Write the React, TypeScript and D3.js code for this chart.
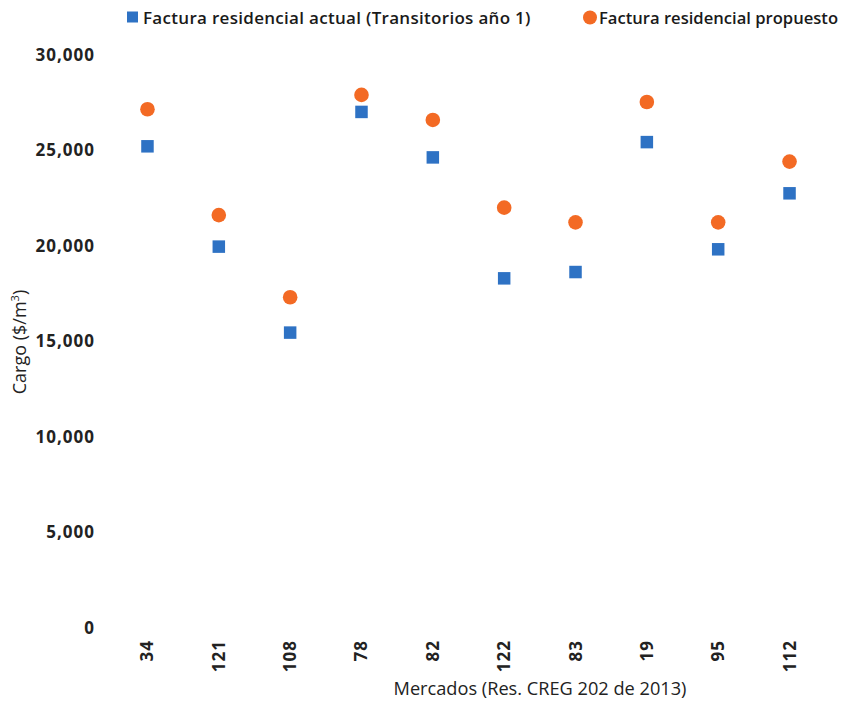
import React from "react";
import * as d3 from "d3";

const categories = ["34", "121", "108", "78", "82", "122", "83", "19", "95", "112"];
const actualValues = [25200, 19950, 15450, 27000, 24620, 18290, 18620, 25420, 19810, 22740];
const proposedValues = [27140, 21600, 17300, 27890, 26580, 21990, 21220, 27520, 21220, 24400];
const yTicks = [0, 5000, 10000, 15000, 20000, 25000, 30000];
const seriesNames = ["Factura residencial actual (Transitorios año 1)", "Factura residencial propuesto"];

const W = 853;
const H = 702;
const margin = { left: 111.8, right: 853 - 825.2, top: 54.6, bottom: 702 - 627.8 };
const BLUE = "#2E72C4";
const ORANGE = "#F36A24";
const FONT = "'Open Sans', 'Noto Sans', sans-serif";

export default function App() {
  const x = d3
    .scaleBand<string>()
    .domain(categories)
    .range([margin.left, W - margin.right]);
  const y = d3
    .scaleLinear()
    .domain([0, 30000])
    .range([H - margin.bottom, margin.top]);
  const fmt = d3.format(",");
  const cx = (c: string) => (x(c) as number) + x.bandwidth() / 2;
  const sq = 12.5;

  return (
    <svg
      width={W}
      height={H}
      style={{ position: "absolute", left: 0, top: 0, background: "#fff" }}
      fontFamily={FONT}
    >
      <rect x={0} y={0} width={W} height={H} fill="#fff" />
      {/* Legend */}
      <rect x={127} y={11.5} width={11} height={11} fill={BLUE} />
      <text x={143} y={23.5} fontSize={17} letterSpacing={0.3} fontWeight={600} fill="#1a1a1a">
        {seriesNames[0]}
      </text>
      <circle cx={590} cy={17.5} r={7} fill={ORANGE} />
      <text x={599} y={23.5} fontSize={16.6} fontWeight={600} fill="#1a1a1a">
        {seriesNames[1]}
      </text>

      {/* Y axis ticks */}
      {yTicks.map((t) => (
        <text
          key={t}
          x={95}
          y={y(t)}
          dy="0.36em"
          textAnchor="end"
          fontSize={17}
          letterSpacing={1}
          fontWeight={700}
          fill="#222"
        >
          {fmt(t)}
        </text>
      ))}
      <text
        transform={`translate(26,${342}) rotate(-90)`}
        textAnchor="middle"
        fontSize={18}
        fontWeight={500}
        fill="#222"
      >
        Cargo ($/m
        <tspan dy={-7} fontSize={11}>3</tspan>
        <tspan dy={7}>)</tspan>
      </text>

      {/* X axis ticks */}
      {categories.map((c) => (
        <text
          key={c}
          transform={`translate(${cx(c) + 6},${640}) rotate(-90)`}
          textAnchor="end"
          fontSize={17}
          letterSpacing={1}
          fontWeight={700}
          fill="#222"
        >
          {c}
        </text>
      ))}
      <text x={540} y={695} textAnchor="middle" fontSize={18.2} fill="#222">
        Mercados (Res. CREG 202 de 2013)
      </text>

      {/* Points */}
      {categories.map((c, i) => (
        <rect
          key={"a" + c}
          x={cx(c) - sq / 2}
          y={y(actualValues[i]) - sq / 2}
          width={sq}
          height={sq}
          fill={BLUE}
        />
      ))}
      {categories.map((c, i) => (
        <circle key={"p" + c} cx={cx(c)} cy={y(proposedValues[i])} r={7.3} fill={ORANGE} />
      ))}
    </svg>
  );
}
